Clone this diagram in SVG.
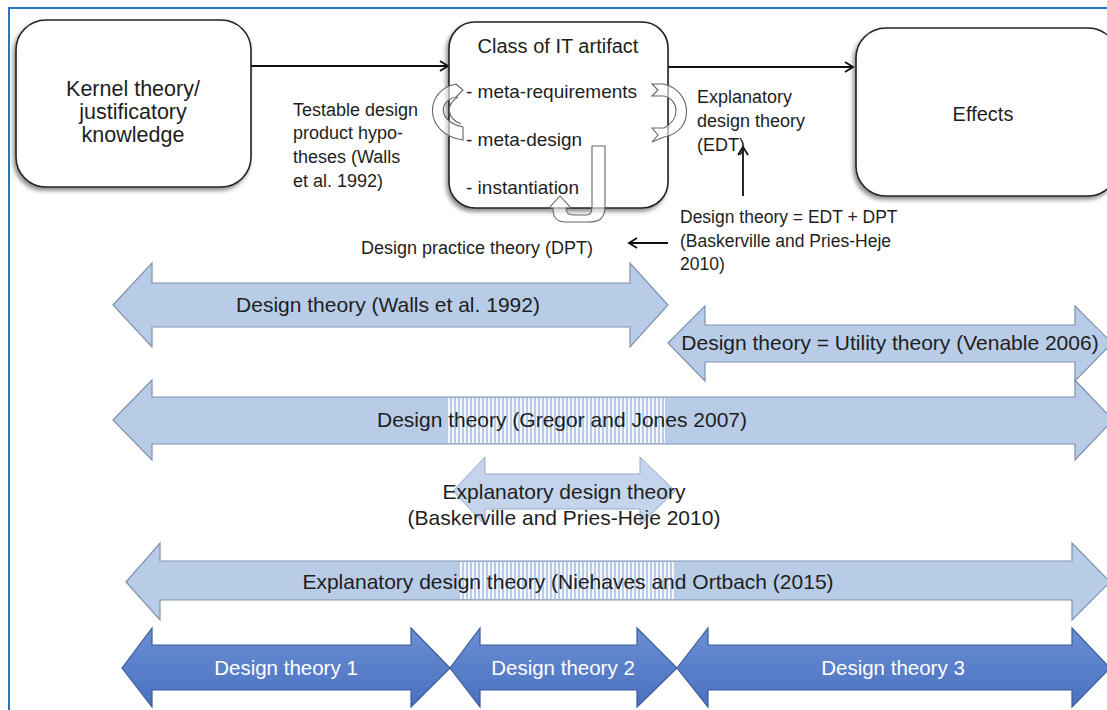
<svg xmlns="http://www.w3.org/2000/svg" width="1107" height="710" viewBox="0 0 1107 710">
<defs>
<style>
.t{font-family:"Liberation Sans",Arial,sans-serif;fill:#1e1e1e}
.box{fill:#fff;stroke:#222;stroke-width:1.6}
.lt{fill:#b8cce7;stroke:#7f92ad;stroke-width:1.2}
.lt2{fill:#c3d4ec;stroke:#9aabc4;stroke-width:1}
.dk{fill:url(#dkg);stroke:#3c5c9c;stroke-width:1.2}
.rib{fill:#fff;fill-opacity:0.6;stroke:#666;stroke-width:1.1}
.con{fill:none;stroke:#111;stroke-width:1.8}
.w{font-family:"Liberation Sans",Arial,sans-serif;fill:#fff;font-size:20.5px}
</style>
<linearGradient id="dkg" x1="0" y1="0" x2="0" y2="1">
<stop offset="0" stop-color="#6b8fd4"/>
<stop offset="1" stop-color="#4a70c0"/>
</linearGradient>
<pattern id="hatch" width="4" height="4" patternUnits="userSpaceOnUse">
<rect width="4" height="4" fill="#b8cce7"/>
<rect width="2" height="4" fill="#ffffff" fill-opacity="0.85"/>
</pattern>
<filter id="sh" x="-10%" y="-10%" width="120%" height="120%">
<feDropShadow dx="-2" dy="3" stdDeviation="2" flood-color="#000" flood-opacity="0.45"/>
</filter>
<marker id="ah" markerWidth="12" markerHeight="12" refX="10" refY="6" orient="auto" markerUnits="userSpaceOnUse">
<path d="M2,1 L10,6 L2,11" fill="none" stroke="#111" stroke-width="1.8"/>
</marker>
</defs>

<rect x="0" y="0" width="1107" height="710" fill="#fff"/>
<path d="M9,710 L9,8 L1107,8" fill="none" stroke="#2a74c6" stroke-width="2"/>

<g id="connectors">
<line class="con" x1="251" y1="66" x2="448" y2="66" marker-end="url(#ah)"/>
<line class="con" x1="665" y1="67" x2="853" y2="67" marker-end="url(#ah)"/>
<line class="con" x1="743" y1="196" x2="743" y2="147" marker-end="url(#ah)"/>
<line class="con" x1="668" y1="243" x2="629" y2="243" marker-end="url(#ah)" stroke-width="1.4"/>
</g>

<g id="kernel">
<rect class="box" x="16" y="20" width="235" height="167" rx="30" filter="url(#sh)"/>
<text class="t" font-size="21.5" text-anchor="middle"><tspan x="133" y="96">Kernel theory/</tspan><tspan x="133" y="119">justificatory</tspan><tspan x="133" y="142">knowledge</tspan></text>
</g>

<g id="artifact">
<rect class="box" x="449" y="22" width="219" height="186" rx="26" filter="url(#sh)"/>
<text class="t" font-size="20" text-anchor="middle" x="558" y="53">Class of IT artifact</text>
<text class="t" font-size="19" x="466" y="98">- meta-requirements</text>
<text class="t" font-size="19" x="466" y="146">- meta-design</text>
<text class="t" font-size="19" x="466" y="194">- instantiation</text>
</g>

<g id="effects">
<rect class="box" x="856" y="28" width="262" height="168" rx="30" filter="url(#sh)"/>
<text class="t" font-size="20" text-anchor="middle" x="983" y="121">Effects</text>
</g>

<g id="loops">
<path class="rib" d="M456,84 L463,90 L456,97 C438,101 438,122 463,127 L463,140 C423,134 424,90 456,84 Z"/>
<path class="rib" d="M458,97 C446,104 446,118 461,124" fill="none"/>
<path class="rib" d="M652,84 L664,84 C694,92 694,132 664,137 L652,142 L658,135 L652,128 L664,128 C680,120 680,100 664,96 L652,96 L658,90 Z"/>
<path class="rib" d="M592,146 L605,146 L605,206 C605,220 598,222 588,222 L566,222 C555,222 553,216 553,208 L549,208 L560,196 L571,208 L566,208 C566,213 568,215 574,215 L586,215 C591,215 592,212 592,206 Z"/>
</g>

<g id="labels">
<text class="t" font-size="18"><tspan x="293" y="116">Testable design</tspan><tspan x="293" y="139">product hypo-</tspan><tspan x="293" y="163">theses (Walls</tspan><tspan x="293" y="187">et al. 1992)</tspan></text>
<text class="t" font-size="18"><tspan x="697" y="103">Explanatory</tspan><tspan x="697" y="127">design theory</tspan><tspan x="697" y="151">(EDT)</tspan></text>
<text class="t" font-size="17.5"><tspan x="680" y="223">Design theory = EDT + DPT</tspan><tspan x="680" y="247">(Baskerville  and Pries-Heje</tspan><tspan x="680" y="270">2010)</tspan></text>
<text class="t" font-size="18" x="361" y="254">Design practice theory (DPT)</text>
</g>

<g id="walls">
<polygon class="lt" points="113,305 152,263 152,283 630,283 630,263 668,305 630,347 630,327 152,327 152,347"/>
<text class="t" font-size="21" text-anchor="middle" x="388" y="312">Design theory (Walls et al. 1992)</text>
</g>

<g id="venable">
<polygon class="lt" points="668,343 705,306 705,325 1075,325 1075,306 1112,343 1075,381 1075,362 705,362 705,381"/>
<text class="t" font-size="21" text-anchor="middle" x="890" y="350">Design theory = Utility theory (Venable 2006)</text>
</g>

<g id="gregor">
<polygon class="lt" points="113,420 152,380 152,397 1075,397 1075,380 1113,420 1075,460 1075,444 152,444 152,460"/>
<rect x="448" y="398" width="217" height="45" fill="url(#hatch)"/>
<text class="t" font-size="21" text-anchor="middle" x="562" y="427">Design theory (Gregor and Jones 2007)</text>
</g>

<g id="baskerville">
<polygon class="lt2" points="453,491 485,457 485,474 640,474 640,457 675,491 640,525 640,509 485,509 485,525"/>
<text class="t" font-size="21" text-anchor="middle"><tspan x="564" y="499">Explanatory design theory</tspan><tspan x="564" y="525">(Baskerville and Pries-Heje 2010)</tspan></text>
</g>

<g id="niehaves">
<polygon class="lt" points="126,582 160,543 160,561 1072,561 1072,543 1110,582 1072,620 1072,600 160,600 160,620"/>
<rect x="458" y="562" width="217" height="37" fill="url(#hatch)"/>
<text class="t" font-size="21" text-anchor="middle" x="568" y="589">Explanatory design theory (Niehaves and Ortbach (2015)</text>
</g>

<g id="dt1">
<polygon class="dk" points="122,668 152,628 152,645 411,645 411,628 450,668 411,707 411,690 152,690 152,707"/>
<text class="w" text-anchor="middle" x="286" y="675">Design theory 1</text>
</g>
<g id="dt2">
<polygon class="dk" points="450,668 480,628 480,645 637,645 637,628 677,668 637,707 637,690 480,690 480,707"/>
<text class="w" text-anchor="middle" x="563" y="675">Design theory 2</text>
</g>
<g id="dt3">
<polygon class="dk" points="677,668 708,628 708,645 1072,645 1072,628 1110,668 1072,707 1072,690 708,690 708,707"/>
<text class="w" text-anchor="middle" x="893" y="675">Design theory 3</text>
</g>
</svg>
